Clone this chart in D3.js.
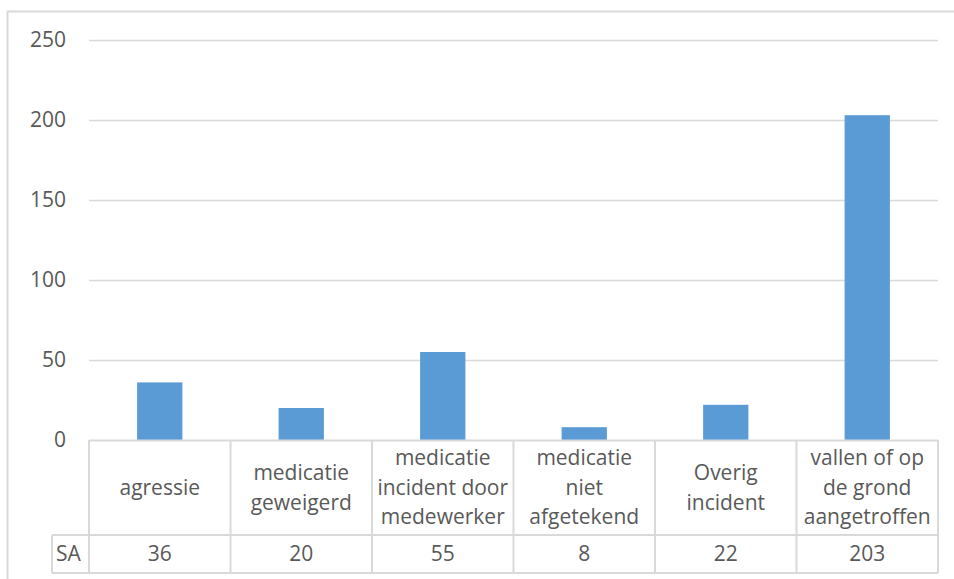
<!DOCTYPE html>
<html>
<head>
<meta charset="utf-8">
<script src="https://cdn.jsdelivr.net/npm/d3@7"></script>
<style>
  body { margin: 0; background: #fff; }
  svg { display: block; font-family: "Open Sans", "Noto Sans", sans-serif; }
</style>
</head>
<body>
<div id="chart"></div>
<script>
// data
const categories = [
    "agressie",
    "medicatie\ngeweigerd",
    "medicatie\nincident door\nmedewerker",
    "medicatie\nniet\nafgetekend",
    "Overig\nincident",
    "vallen of op\nde grond\naangetroffen"
];
const seriesName = "SA";
const values = [36, 20, 55, 8, 22, 203];
const yTicks = [0, 50, 100, 150, 200, 250];

const W = 954, H = 579;
const plot = {left: 89, right: 938, top: 40, bottom: 440};
const headerBottom = 535, tableBottom = 573, seriesLeft = 52;
const textColor = "#595959", lineColor = "#d9d9d9", barColor = "#5b9bd5";
const fontSize = "21px";

const svg = d3.select("#chart").append("svg")
    .attr("width", W).attr("height", H);

// outer chart frame (cropped on the right and bottom)
svg.append("rect")
    .attr("x", 7.5).attr("y", 11.5)
    .attr("width", 1200).attr("height", 1200)
    .attr("fill", "none").attr("stroke", lineColor).attr("stroke-width", 2);

const x = d3.scaleBand()
    .domain(categories)
    .range([plot.left, plot.right])
    .paddingInner(0.68).paddingOuter(0.34);

const xCell = d3.scaleBand()
    .domain(categories)
    .range([plot.left, plot.right]);

const y = d3.scaleLinear()
    .domain([0, 250])
    .range([plot.bottom, plot.top]);

// gridlines
svg.append("g").selectAll("line")
    .data(yTicks.filter(d => d > 0))
    .join("line")
    .attr("x1", plot.left).attr("x2", plot.right)
    .attr("y1", d => Math.round(y(d)) + 0.5).attr("y2", d => Math.round(y(d)) + 0.5)
    .attr("stroke", lineColor).attr("stroke-width", 1.5);

// y tick labels
svg.append("g").selectAll("text")
    .data(yTicks)
    .join("text")
    .attr("x", 66).attr("y", d => y(d))
    .attr("dy", "0.35em")
    .attr("text-anchor", "end")
    .attr("fill", textColor)
    .style("font-size", fontSize)
    .text(d => d);

// bars
svg.append("g").selectAll("rect")
    .data(values)
    .join("rect")
    .attr("x", (d, i) => x(categories[i]))
    .attr("width", x.bandwidth())
    .attr("y", d => y(d))
    .attr("height", d => y(0) - y(d))
    .attr("fill", barColor);

// data table
const table = svg.append("g")
    .attr("fill", "none").attr("stroke", lineColor).attr("stroke-width", 2);

table.append("line")
    .attr("x1", plot.left).attr("x2", plot.right)
    .attr("y1", plot.bottom + 0.5).attr("y2", plot.bottom + 0.5);
table.append("line")
    .attr("x1", seriesLeft).attr("x2", plot.right)
    .attr("y1", headerBottom).attr("y2", headerBottom);
table.append("line")
    .attr("x1", seriesLeft).attr("x2", plot.right)
    .attr("y1", tableBottom).attr("y2", tableBottom);
table.append("line")
    .attr("x1", seriesLeft).attr("x2", seriesLeft)
    .attr("y1", headerBottom).attr("y2", tableBottom);

const edges = categories.map(c => xCell(c)).concat([plot.right]);
table.selectAll("line.col")
    .data(edges)
    .join("line")
    .attr("class", "col")
    .attr("x1", d => d).attr("x2", d => d)
    .attr("y1", plot.bottom).attr("y2", tableBottom);

// category labels
const lineH = 29.5;
const headerMid = (plot.bottom + headerBottom) / 2;
svg.append("g").selectAll("text")
    .data(categories)
    .join("text")
    .attr("text-anchor", "middle")
    .attr("fill", textColor)
    .style("font-size", fontSize)
    .each(function(d) {
        const lines = d.split("\n");
        const t = d3.select(this);
        const cx = xCell(d) + xCell.bandwidth() / 2;
        lines.forEach((s, k) => {
            t.append("tspan")
                .attr("x", cx)
                .attr("y", headerMid + (k - (lines.length - 1) / 2) * lineH)
                .attr("dy", "0.35em")
                .text(s);
        });
    });

// series row
const rowMid = (headerBottom + tableBottom) / 2;
svg.append("text")
    .attr("x", seriesLeft + 4).attr("y", rowMid).attr("dy", "0.35em")
    .attr("fill", textColor).style("font-size", fontSize)
    .text(seriesName);

svg.append("g").selectAll("text")
    .data(values)
    .join("text")
    .attr("x", (d, i) => xCell(categories[i]) + xCell.bandwidth() / 2)
    .attr("y", rowMid).attr("dy", "0.35em")
    .attr("text-anchor", "middle")
    .attr("fill", textColor)
    .style("font-size", fontSize)
    .text(d => d);
</script>
</body>
</html>
